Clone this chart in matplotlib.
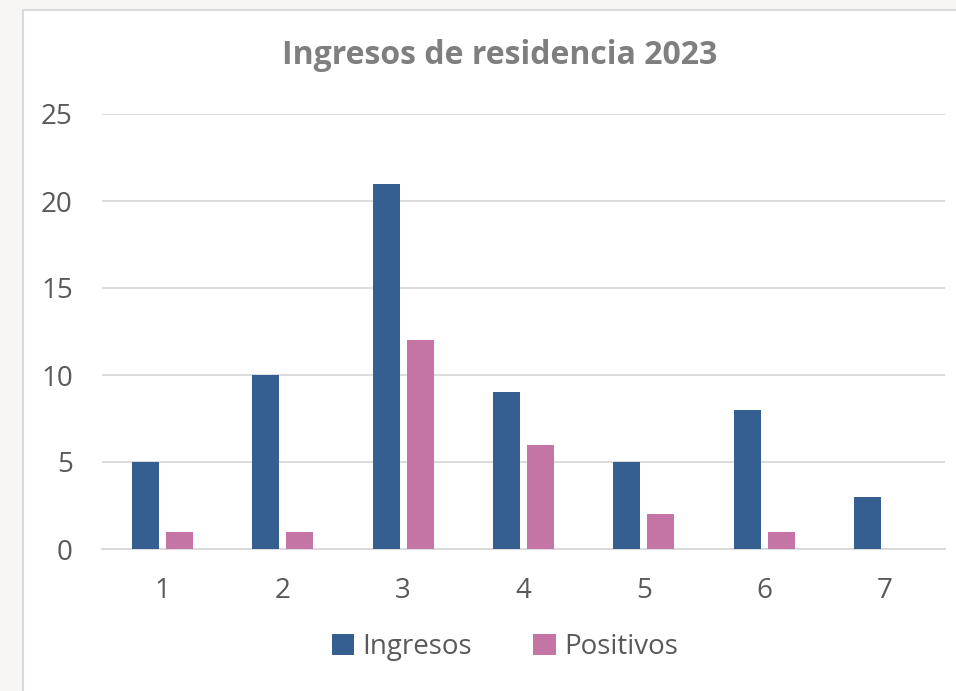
import matplotlib
matplotlib.use("Agg")
import matplotlib.pyplot as plt
import numpy as np
from matplotlib.patches import Rectangle, Patch

categories = ["1", "2", "3", "4", "5", "6", "7"]
ingresos = [5, 10, 21, 9, 5, 8, 3]
positivos = [1, 1, 12, 6, 2, 1, 0]
yticks = [0, 5, 10, 15, 20, 25]

blue = "#355F91"
pink = "#C475A5"
txt = "#595959"
grid = "#D9D9D9"

plt.rcParams['font.family'] = ['Open Sans', 'DejaVu Sans']

W, H = 956, 691
fig = plt.figure(figsize=(W/100, H/100), dpi=100)
fig.patch.set_facecolor("#F7F6F4")
# chart area
fig.patches.append(Rectangle((23/W, -0.1), 1.2, 1.1 - 10/H, transform=fig.transFigure,
                             facecolor="white", edgecolor=grid, linewidth=1.5, zorder=-5))

ax = fig.add_axes([102/W, 1 - 549/H, (945-102)/W, (549-114)/H])
ax.set_zorder(2)
ax.set_facecolor("none")
x = np.arange(len(categories))
bw = 0.224
gap = 0.058
ax.bar(x - (bw+gap)/2, ingresos, bw, color=blue, zorder=3, label="Ingresos")
ax.bar(x + (bw+gap)/2, positivos, bw, color=pink, zorder=3, label="Positivos")

ax.set_xlim(-0.5, len(categories) - 0.5)
ax.set_ylim(0, 25)
ax.set_yticks(yticks)
ax.set_yticklabels([str(v) for v in yticks])
ax.set_xticks(x)
ax.set_xticklabels(categories)
ax.tick_params(axis='both', length=0, labelsize=20, colors=txt)
ax.tick_params(axis='y', pad=21)
ax.tick_params(axis='x', pad=20)
ax.grid(axis='y', color=grid, linewidth=1.3, zorder=0)
for s in ["top", "right", "left"]:
    ax.spines[s].set_visible(False)
ax.spines["bottom"].set_color(grid)
ax.spines["bottom"].set_linewidth(1.3)

fig.text(500/W, 1 - 55/H, "Ingresos de residencia 2023", ha="center", va="center",
         fontsize=23, fontweight="bold", color="#7F7F7F")

handles = [Patch(facecolor=blue, label="Ingresos"), Patch(facecolor=pink, label="Positivos")]
fig.legend(handles=handles, loc="center", bbox_to_anchor=(505/W, 1 - 647/H), ncol=2,
           frameon=False, fontsize=20, labelcolor=txt, handlelength=0.8, handleheight=0.8,
           handletextpad=0.3, columnspacing=2.2)

fig.savefig("out.png", dpi=100, facecolor=fig.get_facecolor())
